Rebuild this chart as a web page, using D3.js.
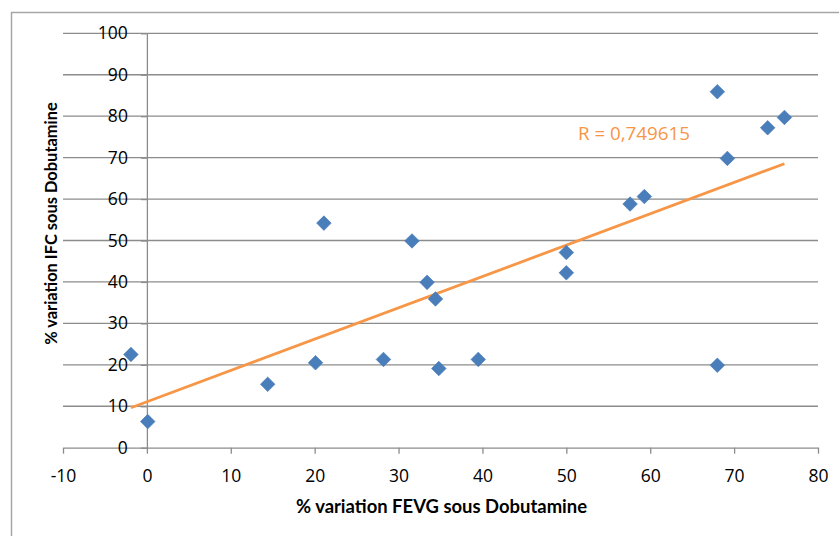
<!DOCTYPE html>
<html>
<head>
<meta charset="utf-8">
<script src="https://cdn.jsdelivr.net/npm/d3@7"></script>
<style>
  html, body { margin: 0; padding: 0; background: #fff; }
  svg { display: block; }
</style>
</head>
<body>
<svg id="chart" width="839" height="536"></svg>
<script>
// ---- Data ----
const fevg = [-1.9, 0.1, 14.4, 20.1, 21.1, 28.2, 31.6, 33.4, 34.4, 34.8, 39.5, 50.0, 50.0, 57.6, 59.3, 68.0, 68.0, 69.2, 74.0, 76.0];
const ifc  = [22.5, 6.3, 15.3, 20.5, 54.2, 21.3, 49.9, 39.9, 35.9, 19.1, 21.3, 47.1, 42.2, 58.8, 60.6, 85.9, 19.9, 69.8, 77.2, 79.7];
const xTicks = [-10, 0, 10, 20, 30, 40, 50, 60, 70, 80];
const yTicks = [0, 10, 20, 30, 40, 50, 60, 70, 80, 90, 100];
const xTitle = "% variation FEVG sous Dobutamine";
const yTitle = "% variation IFC sous Dobutamine";
const rLabel = "R = 0,749615";

// ---- Layout ----
const W = 839, H = 536;
const plot = { left: 63, right: 818, top: 33.3, bottom: 447.7 };
const gridColor = "#8c8c8c";
const font = "'Open Sans', 'Liberation Sans', Arial, sans-serif";
const titleFont = "Lato, 'Open Sans', sans-serif";

const svg = d3.select("#chart");
svg.append("rect").attr("width", W).attr("height", H).attr("fill", "#fff");

// chart-area border (continues past the right and bottom edges)
svg.append("path")
  .attr("d", `M11.5,${H + 5} L11.5,12.5 L${W + 5},12.5`)
  .attr("fill", "none").attr("stroke", "#a6a6a6").attr("stroke-width", 1.5);

const x = d3.scaleLinear().domain([-10, 80]).range([plot.left, plot.right]);
const y = d3.scaleLinear().domain([0, 100]).range([plot.bottom, plot.top]);

// horizontal gridlines
svg.append("g").selectAll("line")
  .data(yTicks.filter(t => t !== 0))
  .join("line")
  .attr("x1", x(-10)).attr("x2", x(80))
  .attr("y1", d => y(d)).attr("y2", d => y(d))
  .attr("stroke", gridColor).attr("stroke-width", 1.3);

// x axis
const gx = svg.append("g")
  .attr("transform", `translate(0,${y(0)})`)
  .call(d3.axisBottom(x).tickValues(xTicks).tickSize(6).tickSizeOuter(0).tickPadding(16).tickFormat(d3.format("d")));
// y axis at x = 0
const gy = svg.append("g")
  .attr("transform", `translate(${x(0)},0)`)
  .call(d3.axisLeft(y).tickValues(yTicks).tickSize(6).tickSizeOuter(0).tickPadding(13).tickFormat(d3.format("d")));

[gx, gy].forEach(g => {
  g.selectAll("path.domain").attr("stroke", gridColor).attr("stroke-width", 1.3);
  g.selectAll(".tick line").attr("stroke", gridColor).attr("stroke-width", 1.3);
  g.selectAll(".tick text")
    .attr("fill", "#000")
    .style("font-family", font)
    .style("font-size", "17.5px");
});
gx.selectAll(".tick text").text(d => d < 0 ? "-" + Math.abs(d) : d);

// linear regression trendline (computed from data)
const n = fevg.length;
const mx = d3.mean(fevg), my = d3.mean(ifc);
let sxy = 0, sxx = 0;
for (let i = 0; i < n; i++) { sxy += (fevg[i] - mx) * (ifc[i] - my); sxx += (fevg[i] - mx) ** 2; }
const slope = sxy / sxx, icpt = my - slope * mx;
const [xmin, xmax] = d3.extent(fevg);
svg.append("line")
  .attr("x1", x(xmin)).attr("y1", y(icpt + slope * xmin))
  .attr("x2", x(xmax)).attr("y2", y(icpt + slope * xmax))
  .attr("stroke", "#F79646").attr("stroke-width", 2.8);

// markers
const pts = fevg.map((v, i) => [v, ifc[i]]);
svg.append("g").selectAll("path")
  .data(pts)
  .join("path")
  .attr("d", d3.symbol(d3.symbolSquare, 106))
  .attr("transform", d => `translate(${x(d[0])},${y(d[1])}) rotate(45)`)
  .attr("fill", "#4A7EBB").attr("stroke", "#4177B5").attr("stroke-width", 0.6);

function fitWidth(sel, target) {
  const w = sel.node().getComputedTextLength();
  const fs = parseFloat(sel.style("font-size"));
  sel.style("font-size", (fs * target / w).toFixed(2) + "px");
}

// R label
const rl = svg.append("text")
  .attr("x", 578).attr("y", 140)
  .attr("fill", "#F79646")
  .style("font-family", font).style("font-size", "19px")
  .text(rLabel);
fitWidth(rl, 112);

// axis titles
const xt = svg.append("text")
  .attr("x", 441.5).attr("y", 513)
  .attr("text-anchor", "middle")
  .style("font-family", titleFont).style("font-weight", "bold").style("font-size", "16px")
  .text(xTitle);
fitWidth(xt, 291);

const yt = svg.append("text")
  .attr("transform", "translate(57,223.5) rotate(-90)")
  .attr("text-anchor", "middle")
  .style("font-family", titleFont).style("font-weight", "bold").style("font-size", "16px")
  .text(yTitle);
fitWidth(yt, 243);
</script>
</body>
</html>
